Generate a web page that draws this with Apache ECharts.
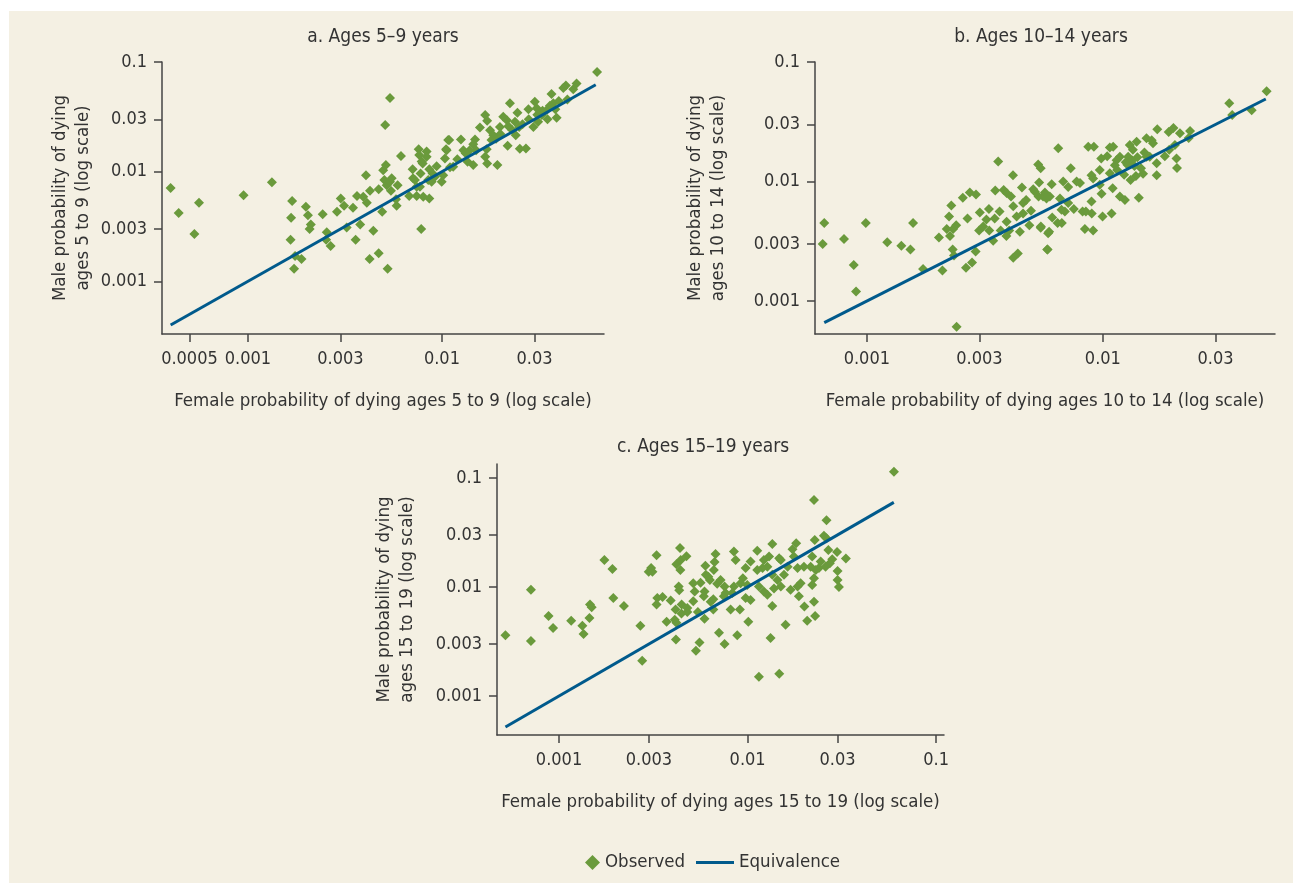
<!DOCTYPE html>
<html>
<head>
<meta charset="utf-8">
<script src="https://cdn.jsdelivr.net/npm/echarts@6/dist/echarts.min.js"></script>
<style>
html,body{margin:0;padding:0;background:#ffffff;}
#chart{width:1293px;height:883px;}
</style>
</head>
<body>
<div id="chart"></div>
<script>
// ---------- DATA (female probability, male probability) ----------
const panelTitles = ['a. Ages 5\u20139 years', 'b. Ages 10\u201314 years', 'c. Ages 15\u201319 years'];
const xNames = [
  'Female probability of dying ages 5 to 9 (log scale)',
  'Female probability of dying ages 10 to 14 (log scale)',
  'Female probability of dying ages 15 to 19 (log scale)'
];
const yNames = [
  'Male probability of dying\nages 5 to 9 (log scale)',
  'Male probability of dying\nages 10 to 14 (log scale)',
  'Male probability of dying\nages 15 to 19 (log scale)'
];
const xTicksA = [0.0005, 0.001, 0.003, 0.01, 0.03];
const xTicksB = [0.001, 0.003, 0.01, 0.03];
const xTicksC = [0.001, 0.003, 0.01, 0.03, 0.1];
const yTicks = [0.001, 0.003, 0.01, 0.03, 0.1];

const observedA = [
  [0.00040,0.0071],[0.00044,0.0042],[0.00056,0.0052],[0.00053,0.0027],[0.00095,0.0061],[0.00133,0.0080],
  [0.00169,0.0054],[0.00167,0.0038],[0.00166,0.0024],[0.00175,0.0017],[0.00173,0.0013],[0.00189,0.0016],
  [0.00199,0.0048],[0.00204,0.0040],[0.00211,0.0033],[0.00208,0.0030],[0.00243,0.0041],[0.00255,0.0028],
  [0.00253,0.0024],[0.00267,0.0021],[0.00288,0.0043],[0.00301,0.0057],[0.00313,0.0049],[0.00323,0.0031],
  [0.00348,0.0047],[0.00359,0.0024],[0.00365,0.0060],[0.00379,0.0033],[0.00393,0.0059],[0.00410,0.0052],
  [0.00406,0.0093],[0.00426,0.0067],[0.00424,0.0016],[0.00443,0.0029],[0.00472,0.0069],[0.00472,0.0018],
  [0.00492,0.0043],[0.00498,0.0103],[0.00514,0.0115],[0.00505,0.0084],[0.00519,0.0075],[0.00540,0.0081],
  [0.00551,0.0087],[0.00546,0.0067],[0.00510,0.0267],[0.00540,0.0469],[0.00525,0.0013],[0.00580,0.0056],
  [0.00584,0.0049],[0.00591,0.0075],[0.00615,0.0139],[0.00678,0.0060],[0.00706,0.0105],[0.00710,0.0087],
  [0.00741,0.0060],[0.00759,0.0160],[0.00764,0.0142],[0.00776,0.0096],[0.00786,0.0124],[0.00796,0.0119],
  [0.00801,0.0059],[0.00782,0.0030],[0.00834,0.0153],[0.00834,0.0137],[0.00861,0.0057],[0.00850,0.0084],
  [0.00885,0.0081],[0.00861,0.0105],[0.00939,0.0112],[0.00920,0.0090],[0.00997,0.0081],[0.01015,0.0093],
  [0.01036,0.0132],[0.0105,0.0160],[0.01077,0.0194],[0.0077,0.0073],[0.00726,0.0084],[0.00741,0.0073],
  [0.0630,0.0811],[0.0494,0.0638],[0.0475,0.0564],[0.0435,0.0612],[0.0422,0.0579],[0.0367,0.0511],
  [0.0443,0.0456],[0.0390,0.0310],[0.0375,0.0420],[0.0384,0.0370],[0.0347,0.0365],[0.0327,0.0328],
  [0.0301,0.0434],[0.0308,0.0378],[0.0296,0.0256],[0.0313,0.0285],[0.0279,0.0370],[0.0271,0.0163],
  [0.0252,0.0162],[0.0245,0.0345],[0.0238,0.0285],[0.0250,0.0256],[0.0240,0.0215],[0.0224,0.0420],
  [0.0216,0.0295],[0.0207,0.0316],[0.0199,0.0256],[0.0218,0.0172],[0.0193,0.0115],[0.0171,0.0119],
  [0.0167,0.0328],[0.0171,0.0291],[0.0177,0.0239],[0.0184,0.0215],[0.0167,0.0137],[0.0157,0.0253],
  [0.0148,0.0197],[0.0145,0.0178],[0.0150,0.0157],[0.0145,0.0115],[0.01355,0.0123],[0.0139,0.0157],
  [0.0129,0.0157],[0.01253,0.0197],[0.0109,0.0194],[0.01057,0.0157],[0.01143,0.0111],[0.00895,0.0096],
  [0.0180,0.0194],[0.01324,0.0147],[0.028,0.030],[0.033,0.036],[0.036,0.040],[0.026,0.027],
  [0.031,0.033],[0.035,0.030],[0.040,0.044],[0.023,0.024],[0.020,0.022],[0.019,0.020],
  [0.022,0.026],[0.017,0.016],[0.012,0.013],[0.011,0.011]
];
const observedB = [
  [0.00066,0.0045],[0.00065,0.0030],[0.00080,0.0033],[0.00088,0.0020],[0.00090,0.0012],[0.00099,0.0045],
  [0.00122,0.0031],[0.00140,0.0029],[0.00153,0.0027],[0.00157,0.0045],[0.00173,0.00185],[0.00202,0.0034],
  [0.00209,0.0018],[0.00218,0.0040],[0.00223,0.0051],[0.00228,0.0063],[0.00225,0.0035],[0.00231,0.0027],
  [0.00232,0.0040],[0.00234,0.0024],[0.00239,0.0043],[0.00240,0.00061],[0.00255,0.0073],[0.00267,0.0049],
  [0.00263,0.0019],[0.00273,0.0081],[0.00279,0.0021],[0.00290,0.0078],[0.00289,0.0026],[0.00299,0.0039],
  [0.00301,0.0055],[0.00311,0.0042],[0.00321,0.0048],[0.00329,0.0059],[0.00330,0.0039],[0.00343,0.0032],
  [0.00348,0.0049],[0.00350,0.0084],[0.00360,0.0147],[0.00365,0.0056],[0.00369,0.0039],[0.00380,0.0085],
  [0.00391,0.0080],[0.00391,0.0046],[0.00390,0.0035],[0.00401,0.0039],[0.00408,0.0075],[0.00417,0.0062],
  [0.00417,0.0023],[0.00416,0.0113],[0.00431,0.0051],[0.00436,0.0025],[0.00445,0.0038],[0.00454,0.0089],
  [0.00459,0.0066],[0.00459,0.0054],[0.00473,0.0070],[0.00488,0.0043],[0.00496,0.0057],[0.00507,0.0086],
  [0.00515,0.0082],[0.00532,0.0139],[0.00537,0.0098],[0.00545,0.0129],[0.00534,0.0075],[0.00545,0.0041],
  [0.00558,0.0075],[0.00568,0.0081],[0.00581,0.0027],[0.00586,0.0037],
  [0.0494,0.0569],[0.0343,0.0451],[0.0353,0.0360],[0.0427,0.0394],[0.0234,0.0265],[0.0231,0.0231],
  [0.0212,0.0253],[0.0199,0.0281],[0.0190,0.0260],[0.0170,0.0274],[0.0205,0.0156],[0.0206,0.0130],
  [0.0202,0.0202],[0.0191,0.0184],[0.0183,0.0163],[0.0169,0.0113],[0.0163,0.0209],[0.0161,0.0222],
  [0.0153,0.0230],[0.0158,0.0161],[0.0169,0.0142],[0.0153,0.0161],[0.0148,0.0116],[0.0145,0.0129],
  [0.0138,0.0111],[0.0142,0.0073],[0.0139,0.0215],[0.0134,0.0184],[0.0130,0.0202],[0.0128,0.0161],
  [0.0136,0.0135],[0.0131,0.0103],[0.0124,0.0070],[0.0118,0.0075],[0.0123,0.0114],[0.0118,0.0161],
  [0.01143,0.0151],[0.01106,0.0195],[0.0107,0.0193],[0.01124,0.0137],[0.0107,0.0117],[0.01043,0.0163],
  [0.00984,0.0156],[0.0097,0.0125],[0.00916,0.0195],[0.00867,0.0195],[0.0110,0.0088],[0.01088,0.0054],
  [0.00997,0.0051],[0.00987,0.0079],[0.0097,0.0094],[0.00909,0.0106],[0.00895,0.0113],[0.00895,0.0068],
  [0.00897,0.0054],[0.00909,0.0039],[0.00839,0.0040],[0.00820,0.0056],[0.0080,0.0097],[0.00774,0.0100],
  [0.00731,0.0129],[0.00647,0.0190],[0.00713,0.0090],[0.00713,0.0066],[0.00753,0.0059],[0.00690,0.0056],
  [0.00668,0.0058],[0.00679,0.0100],[0.00658,0.0072],[0.00607,0.0095],[0.00596,0.0075],[0.00577,0.0072],
  [0.00610,0.0050],[0.00643,0.0045],[0.00670,0.0045],[0.00592,0.0038],[0.00583,0.0027],[0.00546,0.0042],
  [0.00847,0.0056],[0.0125,0.0145],[0.0133,0.0150],[0.0140,0.0160],[0.0127,0.0138],[0.0150,0.0175],
  [0.0115,0.0125]
];
const observedC = [
  [0.00052,0.0036],[0.00071,0.0094],[0.00071,0.0032],[0.00088,0.0054],[0.00093,0.0042],[0.00116,0.0049],
  [0.00133,0.0044],[0.00135,0.0037],[0.00145,0.0052],[0.00146,0.0069],[0.00149,0.0065],[0.00174,0.0177],
  [0.00192,0.0146],[0.00194,0.0079],[0.00221,0.0067],[0.00270,0.0044],[0.00276,0.0021],[0.00299,0.0138],
  [0.00308,0.0149],[0.00313,0.0138],[0.00329,0.0195],[0.00332,0.0079],[0.00329,0.0069],[0.00354,0.0081],
  [0.00372,0.0048],[0.00391,0.0075],[0.00415,0.0062],[0.00411,0.0050],[0.00419,0.0047],[0.00417,0.0033],
  [0.00419,0.0161],[0.00442,0.0177],[0.00438,0.0228],[0.00440,0.0143],[0.00431,0.0101],[0.00434,0.0093],
  [0.00447,0.0069],[0.00446,0.0057],[0.00474,0.0191],[0.00479,0.0064],[0.00479,0.0059],[0.00515,0.0108],
  [0.00515,0.0074],[0.00524,0.0091],[0.00532,0.0026],[0.00545,0.0059],[0.00556,0.0031],[0.00563,0.0109],
  [0.00591,0.0091],[0.00591,0.0051],[0.00597,0.0156],[0.00601,0.0129],[0.00586,0.0082],[0.00619,0.0124],
  [0.00637,0.0073],[0.00668,0.0169],[0.00662,0.0143],[0.00676,0.0200],[0.00690,0.0107],[0.00705,0.0038],
  [0.00658,0.0062],[0.00631,0.0116],
  [0.0597,0.114],[0.0225,0.0628],[0.0262,0.0409],[0.0254,0.0294],[0.0262,0.0280],[0.0227,0.0270],
  [0.0298,0.0209],[0.0332,0.0182],[0.0268,0.0218],[0.0281,0.0179],[0.0273,0.0165],[0.0259,0.0153],
  [0.0244,0.0171],[0.0239,0.0149],[0.0230,0.0143],[0.0225,0.0120],[0.0220,0.0104],[0.0220,0.0190],
  [0.0216,0.0153],[0.0300,0.0140],[0.0300,0.0116],[0.0305,0.0100],[0.0225,0.0073],[0.0228,0.0054],
  [0.0207,0.0049],[0.0200,0.0066],[0.0187,0.0082],[0.0199,0.0153],[0.0184,0.0149],[0.0184,0.0101],
  [0.0191,0.0108],[0.0181,0.0252],[0.0173,0.0222],[0.0176,0.0190],[0.0163,0.0153],[0.0169,0.0094],
  [0.0159,0.0045],[0.0150,0.0177],[0.0156,0.0129],[0.0147,0.0183],[0.0144,0.0116],[0.0150,0.0101],
  [0.01352,0.0248],[0.0130,0.0190],[0.01273,0.0153],[0.01352,0.0129],[0.0138,0.0097],[0.01352,0.0067],
  [0.01324,0.0034],[0.01472,0.0016],[0.01148,0.0015],[0.0122,0.0177],[0.0120,0.0149],[0.01125,0.0215],
  [0.01125,0.0143],[0.01148,0.0101],[0.0122,0.0091],[0.01273,0.0085],[0.01037,0.0171],[0.00976,0.0149],
  [0.00996,0.0104],[0.01037,0.0076],[0.00976,0.0079],[0.01009,0.0048],[0.00944,0.0120],[0.00918,0.0108],
  [0.00910,0.0062],[0.00881,0.0036],[0.00846,0.0211],[0.00864,0.0177],[0.00846,0.0101],[0.00830,0.0088],
  [0.00813,0.0062],[0.00748,0.0082],[0.00755,0.0101],[0.00764,0.0088],[0.00719,0.0116],[0.00755,0.0030],
  [0.00658,0.0077]
];
const equivalenceA = [[0.0004,0.0004],[0.062,0.062]];
const equivalenceB = [[0.00066,0.00066],[0.049,0.049]];
const equivalenceC = [[0.00052,0.00052],[0.0596,0.0596]];

// ---------- STYLE / LAYOUT ----------
const FONT = "'Liberation Sans Narrow','Arial Narrow','DejaVu Sans Condensed',sans-serif";
const TXT = '#333333';
const AX = '#444444';
const GREEN = '#6a9a3c';
const BLUE = '#005a8c';

const grids = [
  {left:162, top:62, width:442, height:272},
  {left:815, top:62, width:460, height:272},
  {left:497, top:464, width:447, height:271}
];
const xRanges = [[0.000361,0.0684],[0.000603,0.0536],[0.000469,0.110]];
const yRanges = [[0.000331,0.1],[0.00053,0.1],[0.000439,0.134]];
const xTickSets = [xTicksA, xTicksB, xTicksC];
const yNameGaps = [67, 85, 78];

function fmt(v){ return String(+(+v).toPrecision(2)); }

const xAxes = grids.map((g,i)=>({
  type:'log', logBase:10, gridIndex:i, min:xRanges[i][0], max:xRanges[i][1],
  name:xNames[i], nameLocation:'middle', nameGap:58,
  nameTextStyle:{fontFamily:FONT, fontSize:18.5, color:TXT},
  axisLine:{show:true, onZero:false, lineStyle:{color:AX, width:1.5}},
  axisTick:{show:true, customValues:xTickSets[i], length:8, lineStyle:{color:AX, width:1.5}},
  axisLabel:{show:true, customValues:xTickSets[i], formatter:fmt, fontFamily:FONT, fontSize:18, color:TXT, margin:16},
  minorTick:{show:false}, splitLine:{show:false}
}));
const yAxes = grids.map((g,i)=>({
  type:'log', logBase:10, gridIndex:i, min:yRanges[i][0], max:yRanges[i][1],
  name:yNames[i], nameLocation:'middle', nameGap:yNameGaps[i], nameRotate:90,
  nameTextStyle:{fontFamily:FONT, fontSize:18.5, color:TXT, lineHeight:23, align:'center'},
  axisLine:{show:true, onZero:false, lineStyle:{color:AX, width:1.5}},
  axisTick:{show:true, customValues:yTicks, length:8, lineStyle:{color:AX, width:1.5}},
  axisLabel:{show:true, customValues:yTicks, formatter:fmt, fontFamily:FONT, fontSize:18, color:TXT, margin:15},
  minorTick:{show:false}, splitLine:{show:false}
}));

const observed = [observedA, observedB, observedC];
const equivalence = [equivalenceA, equivalenceB, equivalenceC];
const series = [];
for (let i=0;i<3;i++){
  series.push({type:'scatter', name:'Observed', xAxisIndex:i, yAxisIndex:i, data:observed[i],
    symbol:'diamond', symbolSize:10, itemStyle:{color:GREEN, opacity:1}, z:2});
  series.push({type:'line', name:'Equivalence', xAxisIndex:i, yAxisIndex:i, data:equivalence[i],
    symbol:'none', showSymbol:false, lineStyle:{color:BLUE, width:3}, itemStyle:{color:BLUE}, z:3});
}

const titlePos = [[383,37],[1041,37],[703,447]];
const graphics = [{type:'rect', z:-100, silent:true, shape:{x:9, y:11, width:1284, height:872}, style:{fill:'#f4f0e3'}}];
titlePos.forEach((p,i)=>graphics.push({type:'text', x:p[0], y:p[1], z:10, silent:true,
  style:{text:panelTitles[i], fill:TXT, font:'19px ' + FONT, textAlign:'center', textVerticalAlign:'middle'}}));

const chart = echarts.init(document.getElementById('chart'), null, {renderer:'canvas'});
chart.setOption({
  animation:false,
  backgroundColor:'#ffffff',
  grid:grids,
  xAxis:xAxes,
  yAxis:yAxes,
  series:series,
  graphic:graphics,
  legend:[
    {data:['Observed'], left:580, top:848, itemWidth:15, itemHeight:15, icon:'diamond', selectedMode:false,
     textStyle:{fontFamily:FONT, fontSize:18.5, color:TXT}},
    {data:['Equivalence'], left:691, top:848, itemWidth:38, itemHeight:3, icon:'rect', selectedMode:false,
     itemStyle:{color:BLUE}, textStyle:{fontFamily:FONT, fontSize:18.5, color:TXT}}
  ]
});
</script>
</body>
</html>
